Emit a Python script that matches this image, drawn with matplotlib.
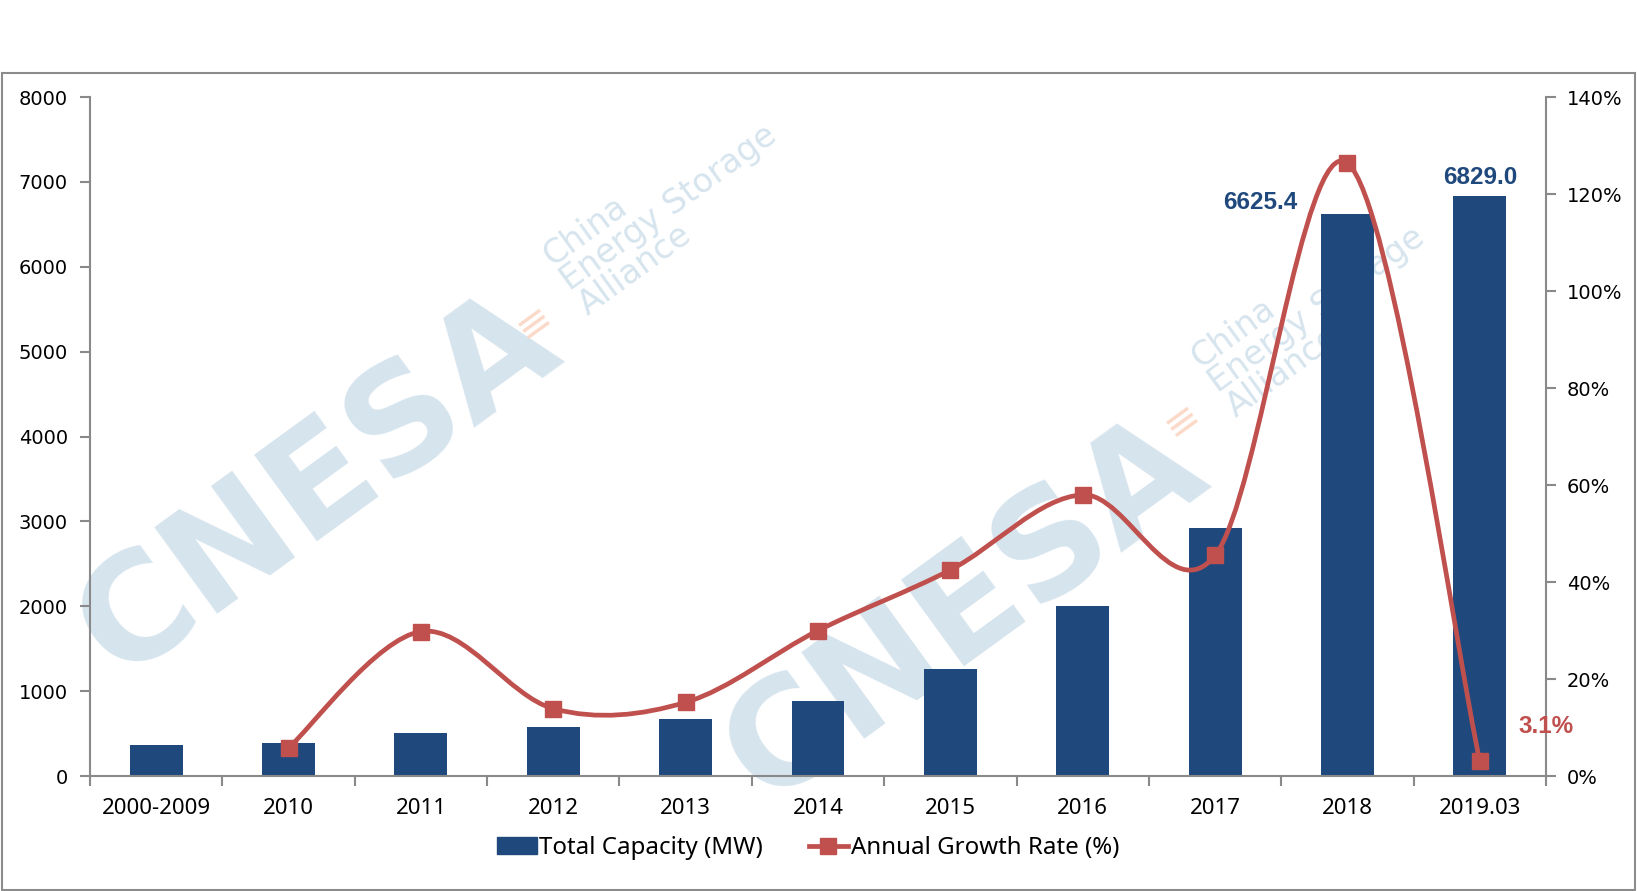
import numpy as np
import matplotlib
matplotlib.use("Agg")
import matplotlib.pyplot as plt
from matplotlib.path import Path
from matplotlib.patches import PathPatch, Rectangle, Patch
from matplotlib.lines import Line2D
from matplotlib.ticker import FuncFormatter, FixedLocator

# data
categories = ["2000-2009", "2010", "2011", "2012", "2013", "2014",
              "2015", "2016", "2017", "2018", "2019.03"]
capacity = [368, 390, 506, 577, 671, 884, 1262, 2003, 2926, 6625.4, 6829.0]
growth = [np.nan, 5.8, 29.8, 13.9, 15.2, 30.0, 42.5, 58.0, 45.5, 126.4, 3.1]

bar_color = "#1f497d"
line_color = "#c0504d"
spine_color = "#898989"
wm_color = "#d6e4ee"
wm_orange = "#fbd9c8"

fig = plt.figure(figsize=(16.37, 8.91), dpi=100)
ax = fig.add_axes([0.055, 0.129, 0.8894, 0.762])
ax2 = ax.twinx()

x = np.arange(len(categories))

# watermark, drawn inside ax below the bars
for (px, py) in [(318, 485), (965, 610)]:
    ax.text(px / 1637, 1 - py / 891, "CNESA", fontsize=106, fontweight="heavy",
            color=wm_color, rotation=36, ha="center", va="center",
            transform=fig.transFigure, zorder=0.5, clip_on=False)
for (px, py) in [(564, 284), (1212, 386)]:
    ax.text(px / 1637, 1 - py / 891, "China\nEnergy Storage\nAlliance", fontsize=24,
            color=wm_color, rotation=36, ha="left", va="center", linespacing=0.9,
            rotation_mode="anchor", transform=fig.transFigure, zorder=0.5,
            family="DejaVu Sans", clip_on=False)
for (px, py) in [(534, 322), (1182, 420)]:
    ax.text(px / 1637, 1 - py / 891, "\u2261", fontsize=30, color=wm_orange, rotation=36,
            ha="center", va="center", transform=fig.transFigure, zorder=0.5, clip_on=False)

ax.bar(x, capacity, width=0.4, color=bar_color, zorder=2)
ax.set_xlim(-0.5, len(categories) - 0.5)
ax.set_ylim(0, 8000)
ax.set_yticks(np.arange(0, 8001, 1000))
ax.set_xticks(x)
ax.set_xticklabels(categories, fontsize=16, family="Noto Sans")
ax.xaxis.set_minor_locator(FixedLocator(np.arange(-0.5, len(categories), 1.0)))
ax.tick_params(axis="x", which="major", length=0, pad=16)
ax.tick_params(axis="x", which="minor", length=7, width=1.5, color=spine_color, direction="out")
ax.tick_params(axis="y", length=7, width=1.5, color=spine_color, labelsize=14, pad=9)

# smoothed growth line (Excel-style Bezier through the points)
gx = [xi for xi, g in zip(x, growth) if not np.isnan(g)]
gy = [g for g in growth if not np.isnan(g)]
pts = np.column_stack([gx, gy]).astype(float)
n = len(pts)
verts = [pts[0]]
codes = [Path.MOVETO]
for i in range(n - 1):
    p0 = pts[i - 1] if i > 0 else pts[i]
    p1 = pts[i]
    p2 = pts[i + 1]
    p3 = pts[i + 2] if i + 2 < n else pts[i + 1]
    c1 = p1 + (p2 - p0) / 6
    c2 = p2 - (p3 - p1) / 6
    verts += [c1, c2, p2]
    codes += [Path.CURVE4] * 3
ax2.add_patch(PathPatch(Path(verts, codes), fill=False, ec=line_color, lw=3.4, zorder=3))
ax2.plot(gx, gy, "s", color=line_color, markersize=11, zorder=4)

ax2.set_ylim(0, 140)
ax2.set_yticks(np.arange(0, 141, 20))
ax2.yaxis.set_major_formatter(FuncFormatter(lambda v, p: "%d%%" % v))
ax2.tick_params(axis="y", length=7, width=1.5, color=spine_color, labelsize=14, pad=8)

for a in (ax, ax2):
    a.spines["top"].set_visible(False)
    for s in ("left", "right", "bottom"):
        a.spines[s].set_color(spine_color)
        a.spines[s].set_linewidth(1.5)
ax.spines["right"].set_visible(False)
ax2.spines["left"].set_visible(False)
ax2.spines["bottom"].set_visible(False)

# annotations
bold = {"family": "Liberation Sans", "fontweight": "bold", "fontsize": 17.5}
ax.annotate("%.1f" % capacity[9], (x[9], capacity[9]), xytext=(-36, 8), textcoords="offset points",
            ha="right", va="center", color=bar_color, **bold)
ax.annotate("%.1f" % capacity[10], (x[10], capacity[10]), xytext=(0, 14), textcoords="offset points",
            ha="center", va="center", color=bar_color, **bold)
ax2.annotate("%.1f%%" % growth[10], (x[10], growth[10]), xytext=(28, 25), textcoords="offset points",
             ha="left", va="center", color=line_color, **bold)

handles = [Patch(color=bar_color),
           Line2D([], [], color=line_color, lw=3.4, marker="s", markersize=11)]
fig.legend(handles, ["Total Capacity (MW)", "Annual Growth Rate (%)"], loc="center",
           bbox_to_anchor=(0.4936, 1 - 848 / 891), ncol=2, frameon=False,
           prop={"family": "Noto Sans", "size": 17.3}, handlelength=1.65, handleheight=0.7,
           handletextpad=0.1, columnspacing=1.9)

fig.add_artist(Rectangle((0.0015, 0.0015), 0.997, 1 - 73 / 891 - 0.0015, transform=fig.transFigure,
                         fill=False, ec="#8c8c8c", lw=1.5))

fig.savefig("out.png", dpi=100)
